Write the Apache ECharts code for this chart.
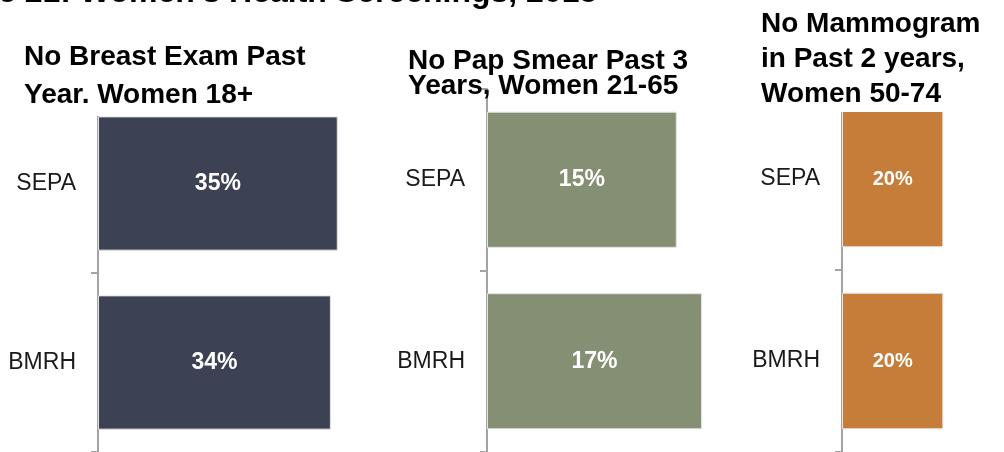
<!DOCTYPE html>
<html>
<head>
<meta charset="utf-8">
<script src="https://cdn.jsdelivr.net/npm/echarts@6/dist/echarts.min.js"></script>
<style>
  html, body { margin: 0; padding: 0; background: #fff; }
  #chart { width: 1004px; height: 452px; }
</style>
</head>
<body>
<div id="chart"></div>
<script>
// 数据
var categories = ['SEPA', 'BMRH'];
var breastExam = [35, 34];
var papSmear = [15, 17];
var mammogram = [20, 20];
var panelTitles = [
    'No Breast Exam Past\nYear. Women 18+',
    'No Pap Smear Past 3\nYears, Women 21-65',
    'No Mammogram\nin Past 2 years,\nWomen 50-74'
];
var colors = ['#3c4254', '#848f74', '#c77d3a'];

var FONT = '"Liberation Sans", Arial, sans-serif';

function makeY(gridIndex) {
    return {
        type: 'category',
        gridIndex: gridIndex,
        data: categories,
        inverse: true,
        axisLine: { show: true, lineStyle: { color: '#a3a3a3', width: 2 } },
        axisTick: { show: true, length: 7, lineStyle: { color: '#a3a3a3', width: 2 } },
        axisLabel: { color: '#1a1a1a', fontSize: 23, fontFamily: FONT, margin: 22 }
    };
}

function makeX(gridIndex, max) {
    return {
        type: 'value',
        gridIndex: gridIndex,
        min: 0,
        max: max,
        show: false,
        splitLine: { show: false }
    };
}

function makeBar(idx, values, fontSize) {
    return {
        type: 'bar',
        xAxisIndex: idx,
        yAxisIndex: idx,
        data: values,
        barCategoryGap: '25%',
        itemStyle: { color: colors[idx], borderColor: '#e4e4e4', borderWidth: 1 },
        label: {
            show: true,
            position: 'inside',
            formatter: '{c}%',
            color: '#fff',
            fontWeight: 'bold',
            fontSize: fontSize,
            fontFamily: FONT
        }
    };
}

var chart = echarts.init(document.getElementById('chart'));
chart.setOption({
    animation: false,
    backgroundColor: '#fff',
    title: [
        {
            text: "Figure 21: Women's Health Screenings, 2015",
            left: -82, top: -22, padding: 0,
            textStyle: { fontSize: 32, fontWeight: 'bold', color: '#000', fontFamily: FONT, lineHeight: 30 }
        },
        {
            text: panelTitles[0],
            left: 24, top: 38, padding: [0, 0, 2, 0],
            backgroundColor: '#fff',
            textStyle: { fontSize: 28, fontWeight: 'bold', color: '#000', fontFamily: FONT, lineHeight: 38 }
        },
        {
            text: panelTitles[1],
            left: 408, top: 49, padding: 0,
            textStyle: { fontSize: 28, fontWeight: 'bold', color: '#000', fontFamily: FONT, lineHeight: 25 }
        },
        {
            text: panelTitles[2],
            left: 761, top: 7, padding: 0,
            backgroundColor: '#fff',
            textStyle: { fontSize: 28, fontWeight: 'bold', color: '#000', fontFamily: FONT, lineHeight: 35 }
        }
    ],
    grid: [
        { left: 98, top: 94, width: 274, height: 358 },
        { left: 487, top: 89, width: 253, height: 368 },
        { left: 842, top: 88, width: 152, height: 370 }
    ],
    xAxis: [makeX(0, 40), makeX(1, 20), makeX(2, 30)],
    yAxis: [makeY(0), makeY(1), makeY(2)],
    series: [
        makeBar(0, breastExam, 23),
        makeBar(1, papSmear, 23),
        makeBar(2, mammogram, 20)
    ]
});
</script>
</body>
</html>
